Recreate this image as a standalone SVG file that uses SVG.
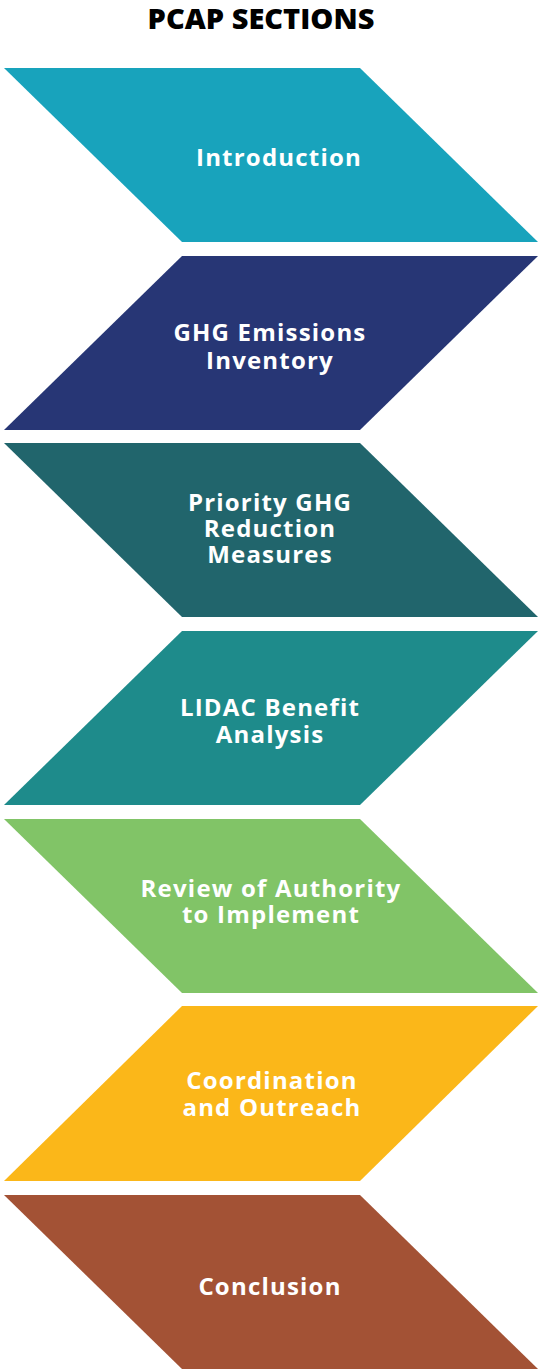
<svg xmlns="http://www.w3.org/2000/svg" width="539" height="1370" viewBox="0 0 539 1370">
<style>
.t{font-family:"Open Sans","Liberation Sans",sans-serif;font-weight:700;font-size:24px;fill:#fff;text-anchor:middle;letter-spacing:1.2px}
.title{font-family:"Open Sans","Liberation Sans",sans-serif;font-weight:800;font-size:29px;fill:#000;text-anchor:middle}
</style>
<rect width="539" height="1370" fill="#fff"/>
<text class="title" x="261" y="29">PCAP SECTIONS</text>
<g id="n1"><polygon points="4,68 360,68 538,242 182,242" fill="#18A3BC"/><text class="t" x="279" y="166">Introduction</text></g>
<g id="n2"><polygon points="182,256 538,256 360,430 4,430" fill="#273675"/><text class="t" x="270" y="341">GHG Emissions</text><text class="t" x="270" y="369">Inventory</text></g>
<g id="n3"><polygon points="4,443 360,443 538,617 182,617" fill="#21656C"/><text class="t" x="270" y="511">Priority GHG</text><text class="t" x="270" y="537">Reduction</text><text class="t" x="270" y="563">Measures</text></g>
<g id="n4"><polygon points="182,631 538,631 360,805 4,805" fill="#1E8B8B"/><text class="t" x="270" y="716">LIDAC Benefit</text><text class="t" x="270" y="743">Analysis</text></g>
<g id="n5"><polygon points="4,819 360,819 538,993 182,993" fill="#81C467"/><text class="t" x="271" y="897">Review of Authority</text><text class="t" x="271" y="923">to Implement</text></g>
<g id="n6"><polygon points="182,1006 538,1006 360,1181 4,1181" fill="#FBB719"/><text class="t" x="272" y="1089">Coordination</text><text class="t" x="272" y="1116">and Outreach</text></g>
<g id="n7"><polygon points="4,1195 360,1195 538,1369 182,1369" fill="#A35235"/><text class="t" x="270" y="1295">Conclusion</text></g>
<g id="connectors"></g>
</svg>
